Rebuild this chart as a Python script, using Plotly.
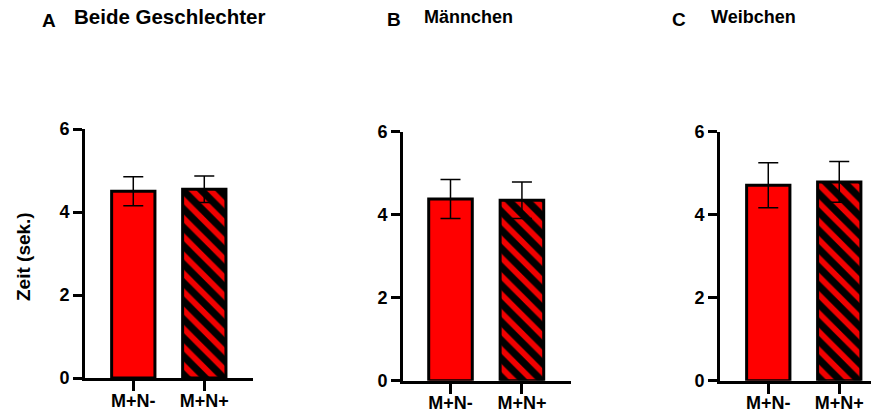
import plotly.graph_objects as go

# ---- data ----
categories = ["M+N-", "M+N+"]
panel_titles = ["Beide Geschlechter", "Männchen", "Weibchen"]
panel_letters = ["A", "B", "C"]
means_A = [4.50, 4.55]
sems_A = [0.35, 0.32]
means_B = [4.38, 4.35]
sems_B = [0.47, 0.44]
means_C = [4.71, 4.79]
sems_C = [0.54, 0.49]
y_ticks = [0, 2, 4, 6]
y_title = "Zeit (sek.)"

# page body has an 8px margin -> figure occupies 8..879 x 8..412
OFF = 8
W, H = 879 - OFF, 412 - OFF
FONT = "Liberation Sans, Arial, Helvetica, sans-serif"
RED = "#FF0000"

def px_x(v):
    return (v - OFF) / W

def px_y(v):
    return 1 - (v - OFF) / H

fig = go.Figure()

panels = [
    (means_A, sems_A, "x", "y"),
    (means_B, sems_B, "x2", "y2"),
    (means_C, sems_C, "x3", "y3"),
]

for means, sems, xa, ya in panels:
    fig.add_trace(go.Bar(
        x=[categories[0]], y=[means[0]], xaxis=xa, yaxis=ya,
        width=0.61,
        marker=dict(color=RED, line=dict(color="black", width=3)),
        error_y=dict(type="data", array=[sems[0]], color="black",
                     thickness=1.5, width=10),
        showlegend=False,
    ))
    fig.add_trace(go.Bar(
        x=[categories[1]], y=[means[1]], xaxis=xa, yaxis=ya,
        width=0.61,
        marker=dict(color=RED, line=dict(color="black", width=3),
                    pattern=dict(shape="\\", fgcolor="black", bgcolor="#F00000",
                                 fillmode="replace", size=13, solidity=0.55)),
        error_y=dict(type="data", array=[sems[1]], color="black",
                     thickness=1.5, width=10),
        showlegend=False,
    ))

x_dom = [(85, 253), (403, 571), (720, 879)]
x_rng = [(-0.68, 1.686), (-0.665, 1.687), (-0.68, 1.56)]
y_dom = [(378, 129), (380.7, 131.7), (380.7, 131.7)]

tickfont = dict(family=FONT, size=18, color="black", weight="bold")
xtickfont = dict(family=FONT, size=18, color="black", weight="bold")

layout_axes = {}
for i in range(3):
    sx = "" if i == 0 else str(i + 1)
    layout_axes["xaxis" + sx] = dict(
        domain=[px_x(x_dom[i][0]), min(1.0, px_x(x_dom[i][1]))],
        anchor="y" + sx, automargin=False,
        type="category",
        categoryorder="array", categoryarray=categories,
        range=list(x_rng[i]),
        showline=True, linecolor="black", linewidth=3,
        ticks="outside", ticklen=10, tickwidth=3, tickcolor="black",
        tickfont=xtickfont, ticklabelstandoff=-6,
        showgrid=False, zeroline=False,
    )
    layout_axes["yaxis" + sx] = dict(
        domain=[px_y(y_dom[i][0]), px_y(y_dom[i][1])],
        anchor="x" + sx, automargin=False,
        range=[0, 6],
        tickvals=y_ticks,
        showline=True, linecolor="black", linewidth=3,
        ticks="outside", ticklen=9, tickwidth=2.5, tickcolor="black",
        tickfont=tickfont, showgrid=False, zeroline=False,
    )

annotations = []
letter_pos = [(40, 20), (385, 19), (670, 19.5)]
title_pos = [(72, 16), (422, 16.5), (709, 17)]
title_sizes = [20.5, 18, 18]
for i in range(3):
    annotations.append(dict(
        text=panel_letters[i], x=px_x(letter_pos[i][0]), y=px_y(letter_pos[i][1]),
        xref="paper", yref="paper", xanchor="left", yanchor="middle",
        showarrow=False, font=dict(family=FONT, size=19, color="black", weight="bold"),
    ))
    annotations.append(dict(
        text=panel_titles[i], x=px_x(title_pos[i][0]), y=px_y(title_pos[i][1]),
        xref="paper", yref="paper", xanchor="left", yanchor="middle",
        showarrow=False, font=dict(family=FONT, size=title_sizes[i], color="black", weight="bold"),
    ))
annotations.append(dict(
    text=y_title, x=px_x(23.5), y=px_y(256.5), xref="paper", yref="paper",
    xanchor="center", yanchor="middle", textangle=-90, showarrow=False,
    font=dict(family=FONT, size=19, color="black", weight="bold"),
))

fig.update_layout(
    width=W, height=H,
    margin=dict(l=0, r=0, t=0, b=0, pad=0, autoexpand=False),
    paper_bgcolor="white", plot_bgcolor="white",
    showlegend=False,
    annotations=annotations,
    **layout_axes,
)

fig.write_html("out.html")
